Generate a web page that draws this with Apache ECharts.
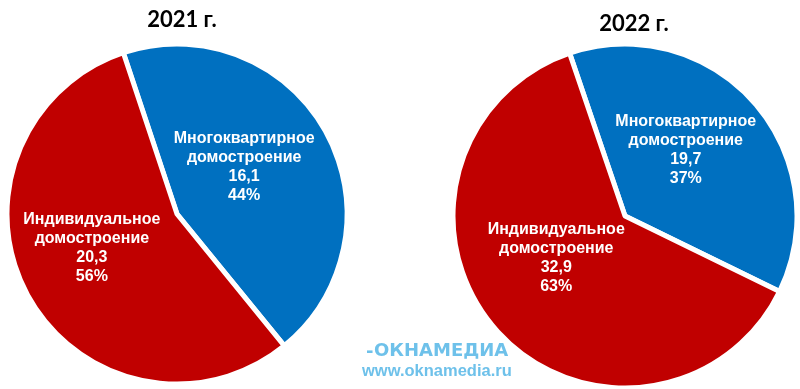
<!DOCTYPE html>
<html><head><meta charset="utf-8">
<script src="https://cdn.jsdelivr.net/npm/echarts@6/dist/echarts.min.js"></script>
<style>html,body{margin:0;padding:0;background:#fff}#c{width:800px;height:389px}</style>
</head><body><div id="c"></div>
<script>
const categories = ['Многоквартирное\nдомостроение', 'Индивидуальное\nдомостроение'];
const values2021 = [16.1, 20.3];
const values2022 = [19.7, 32.9];
const titles = ['2021 г.', '2022 г.'];
const colors = ['#0070C0', '#C00000'];

const chart = echarts.init(document.getElementById('c'), null, {renderer: 'canvas'});
const fmt = p => p.name + '\n' + p.value.toFixed(1).replace('.', ',') + '\n' + Math.round(p.percent) + '%';
function makeData(vals, offsets) {
  return vals.map((v, i) => ({name: categories[i], value: v, itemStyle: {color: colors[i]}, label: {offset: offsets[i]}}));
}
const labelStyle = {position: 'inside', formatter: fmt, color: '#fff', fontWeight: 'bold', fontSize: 16, lineHeight: 19, fontFamily: 'Liberation Sans, Arial, sans-serif'};
chart.setOption({
  backgroundColor: '#fff',
  title: [
    {text: titles[0], left: 177, top: 4, textAlign: 'center', textStyle: {fontSize: 22, fontWeight: 'bold', color: '#000', fontFamily: 'Lato, sans-serif'}},
    {text: titles[1], left: 629, top: 8, textAlign: 'center', textStyle: {fontSize: 22, fontWeight: 'bold', color: '#000', fontFamily: 'Lato, sans-serif'}}
  ],
  graphic: [
    {type: 'text', left: 366, top: 343, style: {text: '-', fill: '#6EC1EA', font: 'bold 18px "DejaVu Sans", sans-serif'}},
    {type: 'text', left: 374, top: 342, style: {text: 'ОКНАМЕДИА', fill: '#6EC1EA', font: 'bold 18px "DejaVu Sans", sans-serif'}},
    {type: 'text', left: 362, top: 363, style: {text: 'www.oknamedia.ru', fill: '#6EC1EA', font: 'bold 16.5px "Liberation Sans", Arial, sans-serif'}}
  ],
  series: [
    {type: 'pie', center: [177, 214], radius: 170, startAngle: 108.4, clockwise: true,
     itemStyle: {borderColor: '#fff', borderWidth: 5}, label: labelStyle, labelLine: {show: false},
     emphasis: {disabled: true}, silent: true, animation: false,
     data: makeData(values2021, [[-10, -5], [-8, -8]])},
    {type: 'pie', center: [625, 216], radius: 172, startAngle: 108.8, clockwise: true,
     itemStyle: {borderColor: '#fff', borderWidth: 5}, label: labelStyle, labelLine: {show: false},
     emphasis: {disabled: true}, silent: true, animation: false,
     data: makeData(values2022, [[-6, -7], [-2, -17]])}
  ]
});
</script></body></html>
